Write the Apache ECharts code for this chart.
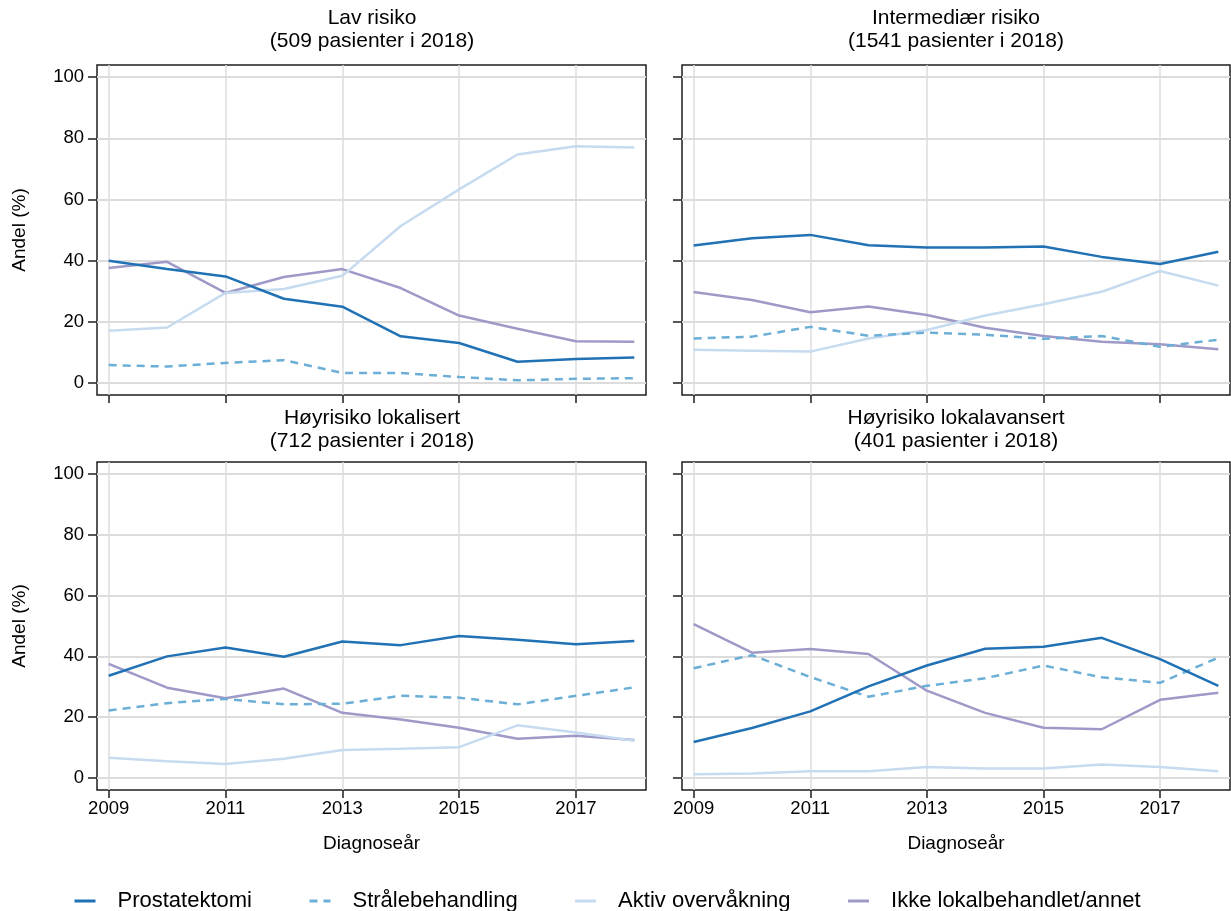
<!DOCTYPE html>
<html>
<head>
<meta charset="utf-8">
<title>Behandling etter risikogruppe</title>
<script src="https://cdn.jsdelivr.net/npm/echarts@6/dist/echarts.min.js"></script>
<style>
  html, body { margin: 0; padding: 0; background: #ffffff; }
  #chart { width: 1231px; height: 911px; }
</style>
</head>
<body>
<div id="chart"></div>
<script>
// Diagnosis years and axis ticks
const years = [2009, 2010, 2011, 2012, 2013, 2014, 2015, 2016, 2017, 2018];
const xTicks = [2009, 2011, 2013, 2015, 2017];
const yTicks = [0, 20, 40, 60, 80, 100];

const seriesNames = ['Prostatektomi', 'Strålebehandling', 'Aktiv overvåkning', 'Ikke lokalbehandlet/annet'];
const panelTitles = [
  'Lav risiko\n(509 pasienter i 2018)',
  'Intermediær risiko\n(1541 pasienter i 2018)',
  'Høyrisiko lokalisert\n(712 pasienter i 2018)',
  'Høyrisiko lokalavansert\n(401 pasienter i 2018)'
];

// Andel (%) per year — Lav risiko
const lavProstatektomi = [39.9, 37.2, 34.8, 27.5, 24.9, 15.2, 13.0, 6.9, 7.8, 8.3];
const lavStraale       = [5.8, 5.3, 6.5, 7.4, 3.2, 3.2, 1.9, 0.8, 1.3, 1.5];
const lavAktiv         = [17.0, 18.1, 29.4, 30.7, 35.0, 51.3, 63.3, 74.7, 77.4, 77.0];
const lavIkke          = [37.6, 39.6, 29.4, 34.6, 37.2, 31.0, 22.0, 17.7, 13.6, 13.4];

// Intermediær risiko
const intProstatektomi = [44.9, 47.3, 48.4, 45.0, 44.3, 44.3, 44.6, 41.2, 38.9, 42.9];
const intStraale       = [14.5, 15.1, 18.3, 15.4, 16.4, 15.7, 14.4, 15.3, 11.8, 14.1];
const intAktiv         = [10.8, 10.5, 10.2, 14.5, 17.3, 22.0, 25.7, 29.8, 36.6, 31.8];
const intIkke          = [29.7, 27.1, 23.1, 25.0, 22.2, 18.0, 15.3, 13.4, 12.6, 11.0];

// Høyrisiko lokalisert
const hlProstatektomi = [33.6, 40.0, 42.9, 39.9, 44.9, 43.7, 46.7, 45.5, 44.0, 45.1];
const hlStraale       = [22.2, 24.6, 26.0, 24.2, 24.4, 27.0, 26.4, 24.2, 27.0, 29.8];
const hlAktiv         = [6.6, 5.5, 4.6, 6.3, 9.2, 9.6, 10.1, 17.3, 14.9, 12.2];
const hlIkke          = [37.5, 29.7, 26.2, 29.4, 21.4, 19.2, 16.5, 12.9, 13.9, 12.5];

// Høyrisiko lokalavansert
const haProstatektomi = [11.8, 16.4, 21.9, 30.1, 37.0, 42.5, 43.2, 46.1, 39.1, 30.3];
const haStraale       = [36.1, 40.4, 33.2, 26.7, 30.3, 32.8, 37.0, 33.1, 31.3, 39.6];
const haAktiv         = [1.2, 1.4, 2.2, 2.2, 3.6, 3.1, 3.1, 4.4, 3.6, 2.2];
const haIkke          = [50.6, 41.2, 42.4, 40.8, 28.7, 21.4, 16.5, 16.0, 25.7, 28.0];

const panelData = [
  [lavProstatektomi, lavStraale, lavAktiv, lavIkke],
  [intProstatektomi, intStraale, intAktiv, intIkke],
  [hlProstatektomi, hlStraale, hlAktiv, hlIkke],
  [haProstatektomi, haStraale, haAktiv, haIkke]
];

// Styling
const FONT = '"Liberation Sans", Arial, Helvetica, sans-serif';
const lineColors = ['#2171b5', '#6baed6', '#c6dbef', '#9e9ac8'];
const lineTypes = ['solid', [8, 6], 'solid', 'solid'];
const gridColor = '#dcdcdc';
const frameColor = '#1e1e1e';

// Panel placement (2 x 2)
const panels = [
  { left: 97,  top: 65,  width: 549, height: 330, titleX: 372, titleTop: 7,   row: 0, col: 0 },
  { left: 682, top: 65,  width: 548, height: 330, titleX: 956, titleTop: 7,   row: 0, col: 1 },
  { left: 97,  top: 462, width: 549, height: 328, titleX: 372, titleTop: 407, row: 1, col: 0 },
  { left: 682, top: 462, width: 548, height: 328, titleX: 956, titleTop: 407, row: 1, col: 1 }
];

const grids = [], xAxes = [], yAxes = [], titles = [], series = [];

panels.forEach((p, i) => {
  grids.push({
    left: p.left, top: p.top, width: p.width, height: p.height,
    show: true, borderColor: frameColor, borderWidth: 1.5, backgroundColor: 'transparent'
  });

  titles.push({
    text: panelTitles[i],
    left: p.titleX, top: p.titleTop, textAlign: 'center', padding: 0,
    textStyle: { fontFamily: FONT, fontSize: 21, fontWeight: 'normal', color: '#000', lineHeight: 23 }
  });

  xAxes.push({
    type: 'value', gridIndex: i, min: 2008.8, max: 2018.2,
    name: p.row === 1 ? 'Diagnoseår' : '',
    nameLocation: 'middle', nameGap: 44,
    nameTextStyle: { fontFamily: FONT, fontSize: 19, color: '#000' },
    axisLine: { show: false, onZero: false },
    axisTick: { show: true, length: 8, customValues: xTicks, lineStyle: { color: frameColor, width: 1.5 } },
    axisLabel: {
      show: p.row === 1, customValues: xTicks, margin: 9,
      fontFamily: FONT, fontSize: 18.5, color: '#000',
      formatter: v => String(v)
    },
    splitLine: { show: true, lineStyle: { color: gridColor, width: 1.5 } }
  });

  yAxes.push({
    type: 'value', gridIndex: i, min: -4, max: 104,
    name: p.col === 0 ? 'Andel (%)' : '',
    nameLocation: 'middle', nameGap: 68,
    nameTextStyle: { fontFamily: FONT, fontSize: 19, color: '#000' },
    axisLine: { show: false, onZero: false },
    axisTick: { show: true, length: 9, customValues: yTicks, lineStyle: { color: frameColor, width: 1.5 } },
    axisLabel: {
      show: p.col === 0, customValues: yTicks, margin: 13,
      fontFamily: FONT, fontSize: 18.5, color: '#000'
    },
    splitLine: { show: true, lineStyle: { color: gridColor, width: 2 } }
  });

  panelData[i].forEach((vals, k) => {
    series.push({
      name: seriesNames[k],
      type: 'line',
      xAxisIndex: i, yAxisIndex: i,
      data: years.map((y, j) => [y, vals[j]]),
      symbol: 'none',
      silent: true,
      z: 10 - k,
      lineStyle: { color: lineColors[k], width: 2.5, type: lineTypes[k] },
      itemStyle: { color: lineColors[k] }
    });
  });
});

const chart = echarts.init(document.getElementById('chart'), null, { renderer: 'canvas' });
chart.setOption({
  animation: false,
  backgroundColor: '#ffffff',
  title: titles,
  grid: grids,
  xAxis: xAxes,
  yAxis: yAxes,
  legend: {
    data: seriesNames,
    left: 68, top: 885,
    itemWidth: 21, itemHeight: 14, itemGap: 56,
    selectedMode: false,
    itemStyle: { opacity: 0 },
    lineStyle: { width: 3 },
    textStyle: { fontFamily: FONT, fontSize: 22, color: '#000', padding: [0, 0, 0, 17] }
  },
  series: series
});
</script>
</body>
</html>
